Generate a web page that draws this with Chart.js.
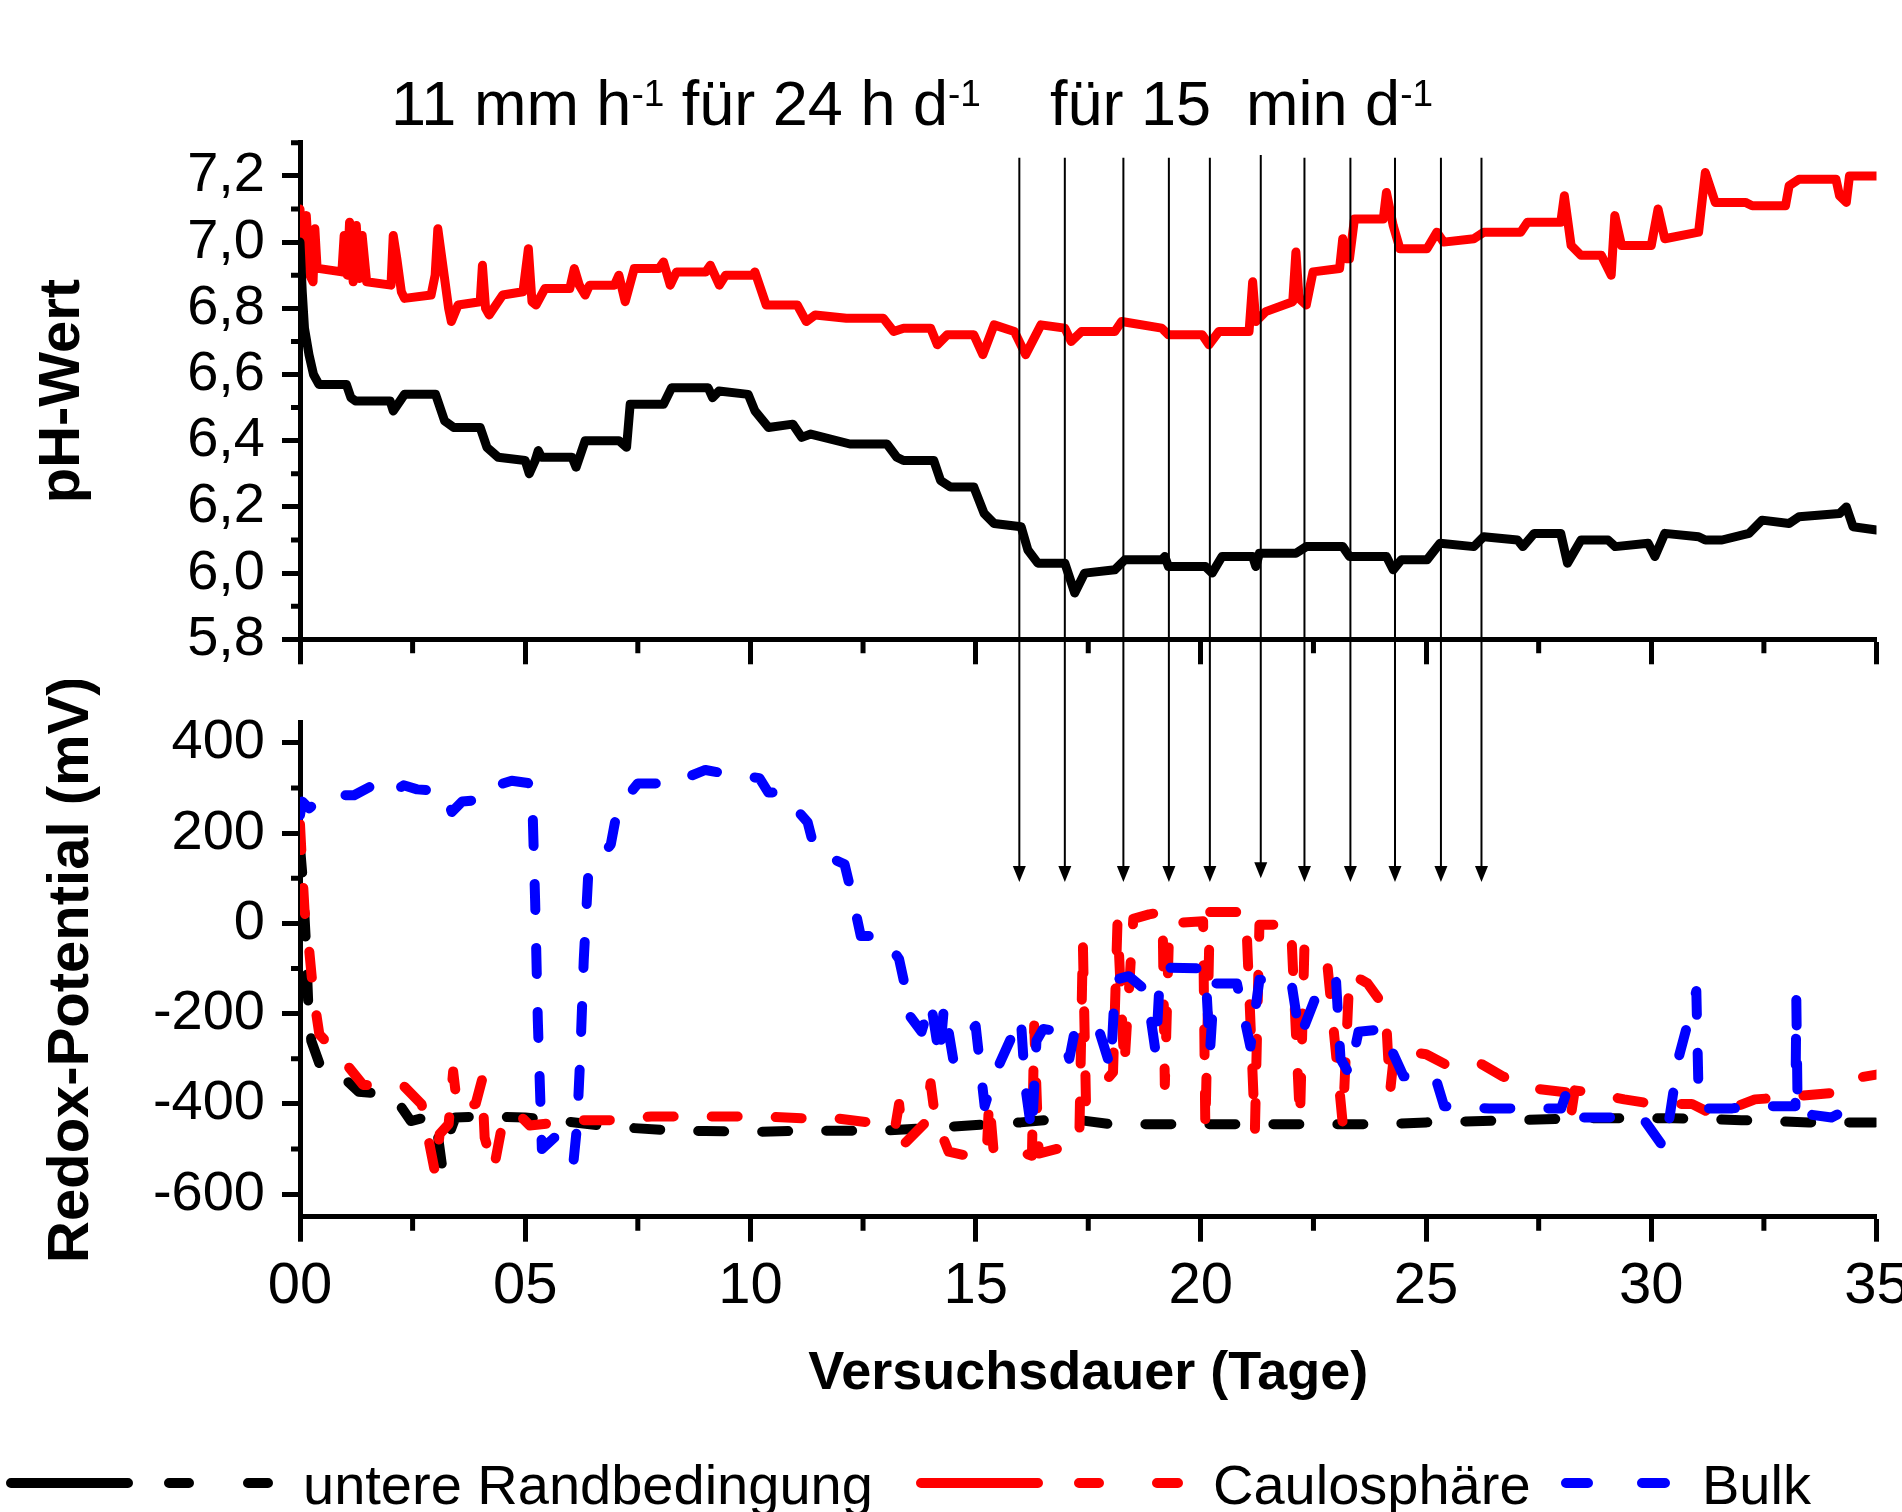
<!DOCTYPE html>
<html lang="de">
<head>
<meta charset="UTF-8">
<title>pH-Wert und Redox-Potential</title>
<script src="https://cdn.jsdelivr.net/npm/chart.js"></script>
<style>
  html, body { margin: 0; padding: 0; background: #fff; overflow: hidden; }
  #phCanvas { position: absolute; left: 0; top: 0; }
  #redoxCanvas { position: absolute; left: 0; top: 680px; }
</style>
</head>
<body>
<canvas id="phCanvas" width="1960" height="680"></canvas>
<canvas id="redoxCanvas" width="1960" height="832"></canvas>
<script>
// ---------- data (Versuchsdauer in Tagen) ----------
// pH, untere Randbedingung
const phDaysRand = [
  0.0, 0.05, 0.1, 0.2, 0.3, 0.42, 1.03, 1.13, 1.23, 2.0,
  2.07, 2.32, 3.01, 3.21, 3.41, 4.0, 4.15, 4.4, 5.0, 5.09,
  5.22, 5.29, 5.36, 6.04, 6.13, 6.33, 7.08, 7.25, 7.33, 8.07,
  8.25, 9.06, 9.16, 9.3, 9.95, 10.1, 10.4, 10.94, 11.14, 11.34,
  12.21, 13.03, 13.25, 13.4, 14.07, 14.22, 14.44, 14.96, 15.19, 15.41,
  16.01, 16.16, 16.38, 16.98, 17.2, 17.42, 18.09, 18.31, 19.13, 19.2,
  19.28, 20.1, 20.25, 20.47, 21.15, 21.22, 21.3, 22.11, 22.34, 23.15,
  23.3, 24.12, 24.27, 24.45, 25.02, 25.31, 26.06, 26.28, 27.03, 27.15,
  27.4, 27.99, 28.14, 28.44, 29.04, 29.2, 29.93, 30.08, 30.3, 31.05,
  31.2, 31.57, 32.17, 32.46, 33.06, 33.28, 34.18, 34.33, 34.48, 35.0
];
const phRand = [
  7.00, 6.85, 6.74, 6.66, 6.60, 6.57, 6.57, 6.53, 6.52, 6.52,
  6.49, 6.54, 6.54, 6.46, 6.44, 6.44, 6.38, 6.35, 6.34, 6.30,
  6.34, 6.37, 6.35, 6.35, 6.32, 6.40, 6.40, 6.38, 6.51, 6.51,
  6.56, 6.56, 6.53, 6.55, 6.54, 6.49, 6.44, 6.45, 6.41, 6.42,
  6.39, 6.39, 6.35, 6.34, 6.34, 6.28, 6.26, 6.26, 6.18, 6.15,
  6.14, 6.07, 6.03, 6.03, 5.94, 6.00, 6.01, 6.04, 6.04, 6.05,
  6.02, 6.02, 6.00, 6.05, 6.05, 6.02, 6.06, 6.06, 6.08, 6.08,
  6.05, 6.05, 6.01, 6.04, 6.04, 6.09, 6.08, 6.11, 6.10, 6.08,
  6.12, 6.12, 6.03, 6.10, 6.10, 6.08, 6.09, 6.05, 6.12, 6.11,
  6.10, 6.10, 6.12, 6.16, 6.15, 6.17, 6.18, 6.20, 6.14, 6.13
];

// pH, Caulosphäre
const phDaysCaulo = [
  0.0, 0.06, 0.1, 0.14, 0.22, 0.29, 0.33, 0.38, 0.44, 0.93,
  0.98, 1.05, 1.1, 1.18, 1.25, 1.32, 1.38, 1.48, 2.02, 2.07,
  2.15, 2.25, 2.32, 2.91, 3.0, 3.06, 3.15, 3.3, 3.36, 3.51,
  4.0, 4.05, 4.12, 4.2, 4.3, 4.5, 4.95, 5.07, 5.15, 5.24,
  5.44, 5.99, 6.09, 6.2, 6.33, 6.43, 6.98, 7.08, 7.22, 7.42,
  7.97, 8.07, 8.22, 8.36, 9.01, 9.11, 9.31, 9.45, 10.05, 10.1,
  10.35, 10.45, 11.04, 11.24, 11.44, 12.13, 12.95, 13.18, 13.4, 14.0,
  14.15, 14.37, 14.96, 15.16, 15.41, 15.86, 16.11, 16.45, 16.98, 17.12,
  17.35, 18.09, 18.24, 19.13, 19.28, 20.03, 20.18, 20.4, 21.07, 21.15,
  21.22, 21.44, 22.04, 22.11, 22.18, 22.34, 22.49, 23.08, 23.15, 23.22,
  23.3, 23.41, 24.05, 24.12, 24.27, 24.42, 25.02, 25.24, 25.39, 26.06,
  26.28, 27.1, 27.25, 27.99, 28.07, 28.22, 28.44, 28.89, 29.11, 29.19,
  29.34, 30.0, 30.15, 30.3, 31.05, 31.2, 31.42, 32.09, 32.24, 32.98,
  33.06, 33.28, 34.1, 34.18, 34.33, 34.4, 35.0
];
const phCaulo = [
  7.10, 6.95, 7.05, 7.08, 6.90, 6.88, 7.04, 6.92, 6.92, 6.91,
  7.02, 6.90, 7.06, 6.88, 7.05, 6.89, 7.02, 6.88, 6.87, 7.02,
  6.95, 6.85, 6.83, 6.84, 6.90, 7.04, 6.95, 6.80, 6.76, 6.81,
  6.82, 6.93, 6.80, 6.78, 6.80, 6.84, 6.85, 6.98, 6.82, 6.81,
  6.86, 6.86, 6.92, 6.87, 6.84, 6.87, 6.87, 6.90, 6.82, 6.92,
  6.92, 6.94, 6.87, 6.91, 6.91, 6.93, 6.87, 6.90, 6.90, 6.91,
  6.81, 6.81, 6.81, 6.76, 6.78, 6.77, 6.77, 6.73, 6.74, 6.74,
  6.69, 6.72, 6.72, 6.66, 6.75, 6.73, 6.66, 6.75, 6.74, 6.70,
  6.73, 6.73, 6.76, 6.74, 6.72, 6.72, 6.69, 6.73, 6.73, 6.88,
  6.76, 6.79, 6.82, 6.97, 6.83, 6.81, 6.91, 6.92, 7.01, 6.95,
  6.95, 7.07, 7.07, 7.15, 7.05, 6.98, 6.98, 7.03, 7.00, 7.01,
  7.03, 7.03, 7.06, 7.06, 7.14, 6.99, 6.96, 6.96, 6.90, 7.08,
  6.99, 6.99, 7.10, 7.01, 7.03, 7.21, 7.12, 7.12, 7.11, 7.11,
  7.17, 7.19, 7.19, 7.14, 7.12, 7.20, 7.20
];

// Redox-Potential (mV), untere Randbedingung
const redoxDaysRand = [
  0.0, 0.05, 0.13, 0.18, 0.25, 0.5, 1.0, 1.3, 2.06, 2.46,
  3.0, 3.15, 3.3, 3.45, 4.0, 5.0, 6.0, 6.6, 7.3, 8.5,
  9.0, 10.0, 11.0, 13.0, 14.5, 16.0, 17.0, 18.0, 20.0, 22.0,
  24.0, 25.0, 27.0, 28.5, 30.5, 32.0, 33.5, 35.0
];
const redoxRand = [
  170, 110, -40, -170, -260, -330, -345, -373, -380, -438,
  -425, -535, -470, -430, -428, -430, -440, -447, -453, -460,
  -460, -462, -460, -459, -450, -441, -432, -445, -445, -445,
  -445, -441, -436, -432, -432, -436, -441, -441
];

// Redox-Potential (mV), Caulosphäre
const redoxDaysCaulo = [
  0.0, 0.05, 0.1, 0.2, 0.3, 0.43, 0.9, 1.4, 2.3, 2.7,
  3.0, 3.1, 3.3, 3.4, 3.5, 3.9, 4.04, 4.1, 4.3, 4.5,
  4.8, 5.1, 6.2, 6.9, 7.8, 8.55, 9.55, 10.25, 11.2, 11.9,
  12.8, 13.2, 13.3, 13.4, 13.9, 14.0, 14.1, 14.4, 15.1, 15.25,
  15.3, 15.4, 16.0, 16.25, 16.3, 16.4, 17.0, 17.3, 17.38, 17.45,
  18.05, 18.15, 18.3, 18.5, 18.85, 19.15, 19.2, 19.3, 20.05, 20.1,
  20.2, 21.0, 21.2, 21.3, 22.0, 22.2, 22.3, 22.8, 23.15, 23.3,
  23.7, 24.1, 24.2, 24.3, 25.0, 25.5, 26.2, 26.7, 27.4, 28.1,
  28.2, 28.3, 28.6, 29.4, 30.1, 30.9, 31.4, 32.3, 33.0, 34.1,
  34.7, 35.0
];
const redoxCaulo = [
  220, 120, 30, -55, -160, -246, -296, -358, -360, -401,
  -553, -467, -445, -328, -413, -400, -347, -475, -545, -440,
  -417, -448, -436, -436, -428, -428, -428, -428, -432, -432,
  -443, -460, -400, -490, -440, -354, -430, -506, -521, -500,
  -390, -506, -506, -515, -226, -510, -495, -485, -40, -400,
  -330, 5, -320, 10, 20, 25, -358, 0, 5, -459,
  25, 25, -459, -3, -3, -436, -50, -82, -444, -110,
  -133, -188, -374, -280, -290, -316, -310, -339, -366, -374,
  -436, -370, -374, -390, -401, -400, -425, -390, -385, -375,
  -340, -335
];

// Redox-Potential (mV), Bulk
const redoxDaysBulk = [
  0.0, 0.05, 0.2, 0.6, 1.2, 1.8, 2.1, 2.3, 2.6, 3.2,
  3.37, 3.6, 4.0, 4.25, 4.7, 5.06, 5.15, 5.22, 5.28, 5.37,
  5.7, 6.07, 6.15, 6.22, 6.3, 6.4, 6.9, 7.05, 7.5, 8.25,
  9.0, 9.55, 10.2, 10.4, 10.7, 11.27, 11.43, 12.09, 12.25, 12.45,
  12.95, 13.3, 13.4, 13.5, 13.8, 14.0, 14.2, 14.3, 14.5, 15.0,
  15.2, 15.4, 16.0, 16.1, 16.25, 16.35, 16.5, 16.9, 17.08, 17.2,
  17.4, 17.7, 18.0, 18.1, 18.4, 18.8, 19.0, 19.1, 20.1, 20.2,
  20.3, 20.8, 21.1, 21.3, 22.0, 22.2, 22.7, 23.0, 23.1, 23.3,
  23.5, 24.1, 24.2, 24.5, 25.2, 25.4, 26.4, 27.1, 28.0, 28.1,
  28.2, 29.8, 30.3, 30.6, 31.0, 31.05, 31.1, 31.8, 32.2, 33.2,
  33.22, 33.25, 34.0, 34.4
];
const redoxBulk = [
  240, 270, 255, 284, 284, 316, 293, 306, 297, 293,
  247, 270, 274, 302, 316, 311, 300, 50, -216, -500,
  -470, -530, -450, -300, -80, 110, 175, 255, 310, 310,
  340, 330, 322, 290, 290, 224, 162, 131, 65, -28,
  -28, -79, -125, -200, -240, -172, -300, -180, -300, -227,
  -405, -340, -207, -360, -467, -260, -234, -240, -300, -238,
  -230, -225, -320, -125, -117, -150, -288, -98, -100, -288,
  -133, -133, -273, -125, -125, -253, -125, -125, -300, -335,
  -240, -234, -273, -339, -339, -405, -410, -410, -410, -380,
  -430, -430, -500, -300, -150, -380, -410, -410, -405, -405,
  -170, -420, -430, -410
];

// Beregnungszeitpunkte (Pfeile)
const arrowDays  = [15.97, 16.98, 18.28, 19.29, 20.2, 21.33, 22.3, 23.32, 24.31, 25.33, 26.23];
const arrowTopPh = [7.255, 7.255, 7.255, 7.255, 7.255, 7.263, 7.255, 7.255, 7.255, 7.255, 7.255];
const arrowTipMv = [92, 92, 92, 92, 92, 100, 92, 92, 92, 92, 92];

// Nebenteilstriche
const dayMinorTicks   = [2.5, 7.5, 12.5, 17.5, 22.5, 27.5, 32.5];
const phMinorTicks    = [5.9, 6.1, 6.3, 6.5, 6.7, 6.9, 7.1, 7.3];
const redoxMinorTicks = [300, 100, -100, -300, -500];

// ---------- styling ----------
const FONT = "'Liberation Sans', Arial, Helvetica, sans-serif";
Chart.defaults.font.family = FONT;
Chart.defaults.color = '#000';

const PLOT_LEFT = 300;
const PAD_RIGHT = 1960 - 1876.5;
const TOP_OFFSET = 680; // page y where the redox canvas begins

function points(days, vals) {
  return days.map((d, i) => ({ x: d, y: vals[i] }));
}

function noPad(s) {
  s.paddingTop = 0; s.paddingBottom = 0; s.paddingLeft = 0; s.paddingRight = 0;
}

const axisBorder = { display: true, width: 5, color: '#000' };
function tickGrid(len) {
  return { display: true, drawOnChartArea: false, drawTicks: true, tickLength: len, tickWidth: 5, tickColor: '#000' };
}

// minor ticks (shorter than the major ones Chart.js draws)
function minorTicksPlugin(yMinor) {
  return {
    id: 'minorTicks',
    afterDraw(chart) {
      const { ctx, chartArea, scales: { x, y } } = chart;
      ctx.save();
      ctx.strokeStyle = '#000';
      ctx.lineWidth = 5;
      ctx.beginPath();
      yMinor.forEach(v => {
        const py = y.getPixelForValue(v);
        ctx.moveTo(chartArea.left - 9, py);
        ctx.lineTo(chartArea.left, py);
      });
      dayMinorTicks.forEach(d => {
        const px = x.getPixelForValue(d);
        ctx.moveTo(px, chartArea.bottom);
        ctx.lineTo(px, chartArea.bottom + 14);
      });
      ctx.stroke();
      ctx.restore();
    }
  };
}

// upper part of the arrows (pH panel)
const arrowLinesTop = {
  id: 'arrowLinesTop',
  afterDatasetsDraw(chart) {
    const { ctx, scales: { x, y } } = chart;
    ctx.save();
    ctx.strokeStyle = '#000';
    ctx.lineWidth = 2;
    arrowDays.forEach((d, i) => {
      const px = x.getPixelForValue(d);
      ctx.beginPath();
      ctx.moveTo(px, y.getPixelForValue(arrowTopPh[i]));
      ctx.lineTo(px, chart.height);
      ctx.stroke();
    });
    ctx.restore();
  }
};

// lower part of the arrows with heads (redox panel)
const arrowLinesBottom = {
  id: 'arrowLinesBottom',
  afterDatasetsDraw(chart) {
    const { ctx, scales: { x, y } } = chart;
    ctx.save();
    ctx.strokeStyle = '#000';
    ctx.fillStyle = '#000';
    ctx.lineWidth = 2;
    arrowDays.forEach((d, i) => {
      const px = x.getPixelForValue(d);
      const tip = y.getPixelForValue(arrowTipMv[i]);
      ctx.beginPath();
      ctx.moveTo(px, 0);
      ctx.lineTo(px, tip - 14);
      ctx.stroke();
      ctx.beginPath();
      ctx.moveTo(px - 6.5, tip - 16);
      ctx.lineTo(px + 6.5, tip - 16);
      ctx.lineTo(px, tip);
      ctx.closePath();
      ctx.fill();
    });
    ctx.restore();
  }
};

// irrigation text with superscripts above the pH panel
const irrigationText = {
  id: 'irrigationText',
  afterDraw(chart) {
    const ctx = chart.ctx;
    const runs = (x, y, parts) => {
      parts.forEach(([text, sup]) => {
        ctx.font = (sup ? '37px ' : '63px ') + FONT;
        ctx.fillText(text, x, sup ? y - 19 : y);
        x += ctx.measureText(text).width;
      });
    };
    ctx.save();
    ctx.fillStyle = '#000';
    ctx.textAlign = 'left';
    ctx.textBaseline = 'alphabetic';
    runs(391, 125, [['11 mm h', false], ['-1', true], [' für 24 h d', false], ['-1', true]]);
    runs(1050, 125, [['für 15  min d', false], ['-1', true]]);
    ctx.restore();
  }
};

// legend row: solid (pH) + dashed (redox) symbol per series
const legendEntries = [
  { label: 'untere Randbedingung', color: '#000000', solid: [11, 128], dashes: [[169, 189], [248, 268]], textX: 303 },
  { label: 'Caulosphäre', color: '#ff0000', solid: [921, 1038], dashes: [[1079, 1099], [1157, 1178]], textX: 1213 },
  { label: 'Bulk', color: '#0000ff', solid: null, dashes: [[1566, 1588], [1642, 1665]], textX: 1702 }
];
const legendRow = {
  id: 'legendRow',
  afterDraw(chart) {
    const ctx = chart.ctx;
    const ly = 1483 - TOP_OFFSET;
    ctx.save();
    ctx.lineWidth = 10;
    ctx.lineCap = 'round';
    legendEntries.forEach(e => {
      ctx.strokeStyle = e.color;
      ctx.beginPath();
      if (e.solid) { ctx.moveTo(e.solid[0], ly); ctx.lineTo(e.solid[1], ly); }
      e.dashes.forEach(([a, b]) => { ctx.moveTo(a, ly); ctx.lineTo(b, ly); });
      ctx.stroke();
      ctx.fillStyle = '#000';
      ctx.font = '56px ' + FONT;
      ctx.textAlign = 'left';
      ctx.textBaseline = 'alphabetic';
      ctx.fillText(e.label, e.textX, 1504 - TOP_OFFSET);
    });
    ctx.restore();
  }
};

const commonOptions = {
  responsive: false,
  animation: false,
  devicePixelRatio: 1,
  elements: {
    point: { radius: 0, hoverRadius: 0 },
    line: { tension: 0, borderJoinStyle: 'round', borderCapStyle: 'round', fill: false }
  }
};

// ---------- pH panel ----------
new Chart(document.getElementById('phCanvas'), {
  type: 'line',
  data: {
    datasets: [
      { label: 'untere Randbedingung', data: points(phDaysRand, phRand), borderColor: '#000000', borderWidth: 9 },
      { label: 'Caulosphäre', data: points(phDaysCaulo, phCaulo), borderColor: '#ff0000', borderWidth: 9 }
    ]
  },
  options: {
    ...commonOptions,
    layout: { padding: { left: 0, right: PAD_RIGHT, top: 142.8, bottom: 0 } },
    plugins: { legend: { display: false }, tooltip: { enabled: false } },
    scales: {
      x: {
        type: 'linear', min: 0, max: 35,
        afterFit: s => { s.height = 680 - 639.3; noPad(s); },
        ticks: { stepSize: 5, autoSkip: false, callback: () => '' },
        grid: tickGrid(25),
        border: axisBorder
      },
      y: {
        min: 5.8, max: 7.3,
        afterFit: s => { s.width = PLOT_LEFT; noPad(s); },
        ticks: {
          stepSize: 0.2, includeBounds: false, padding: 17,
          font: { size: 56 },
          callback: v => v.toFixed(1).replace('.', ',')
        },
        grid: tickGrid(18),
        border: axisBorder,
        title: { display: true, text: 'pH-Wert', font: { size: 58, weight: 'bold' }, padding: { top: 28, bottom: 0 } }
      }
    }
  },
  plugins: [minorTicksPlugin(phMinorTicks), arrowLinesTop, irrigationText]
});

// ---------- redox panel ----------
const dash = [26, 38];
new Chart(document.getElementById('redoxCanvas'), {
  type: 'line',
  data: {
    datasets: [
      { label: 'Bulk', data: points(redoxDaysBulk, redoxBulk), borderColor: '#0000ff', borderWidth: 10, borderDash: dash },
      { label: 'Caulosphäre', data: points(redoxDaysCaulo, redoxCaulo), borderColor: '#ff0000', borderWidth: 10, borderDash: dash },
      { label: 'untere Randbedingung', data: points(redoxDaysRand, redoxRand), borderColor: '#000000', borderWidth: 10, borderDash: dash }
    ]
  },
  options: {
    ...commonOptions,
    layout: { padding: { left: 0, right: PAD_RIGHT, top: 722.6 - TOP_OFFSET, bottom: 832 - (1216.7 - TOP_OFFSET) - 196 } },
    plugins: { legend: { display: false }, tooltip: { enabled: false } },
    scales: {
      x: {
        type: 'linear', min: 0, max: 35,
        afterFit: s => { s.height = 196; noPad(s); },
        ticks: {
          stepSize: 5, autoSkip: false, maxRotation: 0, padding: 10,
          font: { size: 58 },
          callback: v => String(v).padStart(2, '0')
        },
        grid: tickGrid(25),
        border: axisBorder,
        title: { display: true, text: 'Versuchsdauer (Tage)', font: { size: 54, weight: 'bold' }, padding: { top: 0, bottom: 6 } }
      },
      y: {
        min: -650, max: 445,
        afterFit: s => { s.width = PLOT_LEFT; noPad(s); },
        ticks: { stepSize: 200, includeBounds: false, padding: 17, font: { size: 56 } },
        grid: tickGrid(18),
        border: axisBorder,
        title: { display: true, text: 'Redox-Potential (mV)', font: { size: 58, weight: 'bold' }, padding: { top: 37, bottom: 0 } }
      }
    }
  },
  plugins: [minorTicksPlugin(redoxMinorTicks), arrowLinesBottom, legendRow]
});
</script>
</body>
</html>
